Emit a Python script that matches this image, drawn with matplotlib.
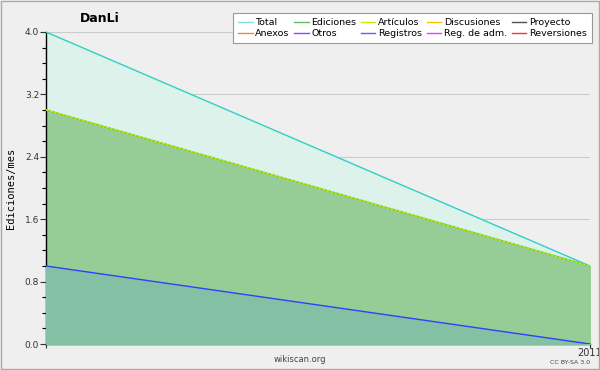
import matplotlib
matplotlib.use("Agg")
import matplotlib.pyplot as plt
from matplotlib.lines import Line2D
from matplotlib.patches import Rectangle
from matplotlib.ticker import MultipleLocator

# data (two months, last one labelled 2011)
x = [0, 1]
x_labels = ["", "2011"]
total = [4.0, 1.0]
ediciones = [3.0, 1.0]
articulos = [3.0, 1.0]
registros = [1.0, 0.0]

legend_names = ["Total", "Ediciones", "Artículos", "Discusiones", "Proyecto",
                "Anexos", "Otros", "Registros", "Reg. de adm.", "Reversiones"]
legend_colors = ["#80e0e0", "#60c060", "#c0f000", "#ffc000", "#505050",
                 "#ff8040", "#a040ff", "#6060ff", "#e040ff", "#ff3030"]

BG = "#efefef"

fig = plt.figure(figsize=(6, 3.7), dpi=100, facecolor=BG)
ax = fig.add_axes([46 / 600, 26 / 370, 544 / 600, 312 / 370])
ax.set_facecolor(BG)

# fills + lines
ax.fill_between(x, 0, total, color="#dcf2ea", zorder=1)
ax.plot(x, total, color="#30d0c8", linewidth=1, zorder=4)
ax.fill_between(x, 0, ediciones, color="#96cc96", zorder=2)
ax.plot(x, ediciones, color="#60c060", linewidth=1.2, zorder=4)
ax.plot(x, articulos, color="#c8f000", linewidth=1, linestyle=(0, (2, 1)), zorder=5)
ax.fill_between(x, 0, registros, color="#84c0a4", zorder=3)
ax.plot(x, registros, color="#3040ff", linewidth=1, zorder=5)

ax.set_xlim(0, 1)
ax.set_ylim(0, 4.0)
ax.yaxis.set_major_locator(MultipleLocator(0.8))
ax.yaxis.set_minor_locator(MultipleLocator(0.2))
ax.set_xticks(x)
ax.set_xticklabels(x_labels)
ax.grid(axis="y", color="#cccccc", linewidth=0.8, zorder=0)
ax.set_axisbelow(True)
ax.tick_params(axis="y", labelsize=6.5, length=4, width=0.8, colors="#333333", pad=1)
ax.tick_params(axis="y", which="minor", length=3, width=0.8)
ax.tick_params(axis="x", labelsize=7, length=3, pad=0, colors="#333333")
ax.yaxis.set_major_formatter(matplotlib.ticker.FormatStrFormatter("%.1f"))
for s in ["top", "right"]:
    ax.spines[s].set_visible(False)
ax.spines["left"].set_linewidth(1)
ax.spines["bottom"].set_linewidth(1)

ax.set_ylabel("Ediciones/mes", fontsize=7.5, family="DejaVu Sans Mono", labelpad=6)

# texts
fig.text(100 / 600, 1 - 18 / 370, "DanLi", fontsize=9, fontweight="bold", ha="center", va="center")
fig.text(300 / 600, 1 - 360 / 370, "wikiscan.org", fontsize=6, color="#444444", ha="center", va="center")
fig.text(570 / 600, 1 - 363 / 370, "CC BY-SA 3.0", fontsize=4.5, color="#444444", ha="center", va="center")

# legend
handles = [Line2D([0], [0], color=c, linewidth=1) for c in legend_colors]
order = [0, 5, 1, 6, 2, 7, 3, 8, 4, 9]
leg = fig.legend([handles[i] for i in order], [legend_names[i] for i in order],
                 ncol=5, loc="upper right", bbox_to_anchor=(597 / 600, 1 - 8 / 370),
                 fontsize=6.8, frameon=True, fancybox=False, edgecolor="#999999",
                 facecolor="white", framealpha=1, handlelength=1.5, handletextpad=0.3,
                 columnspacing=0.5, labelspacing=0.15, borderpad=0.6)
leg.get_frame().set_linewidth(0.8)

# outer border
fig.patches.append(Rectangle((0.002, 0.003), 0.996, 0.994, transform=fig.transFigure,
                             fill=False, edgecolor="#aaaaaa", linewidth=1))

fig.savefig("out.png", dpi=100, facecolor=BG)
